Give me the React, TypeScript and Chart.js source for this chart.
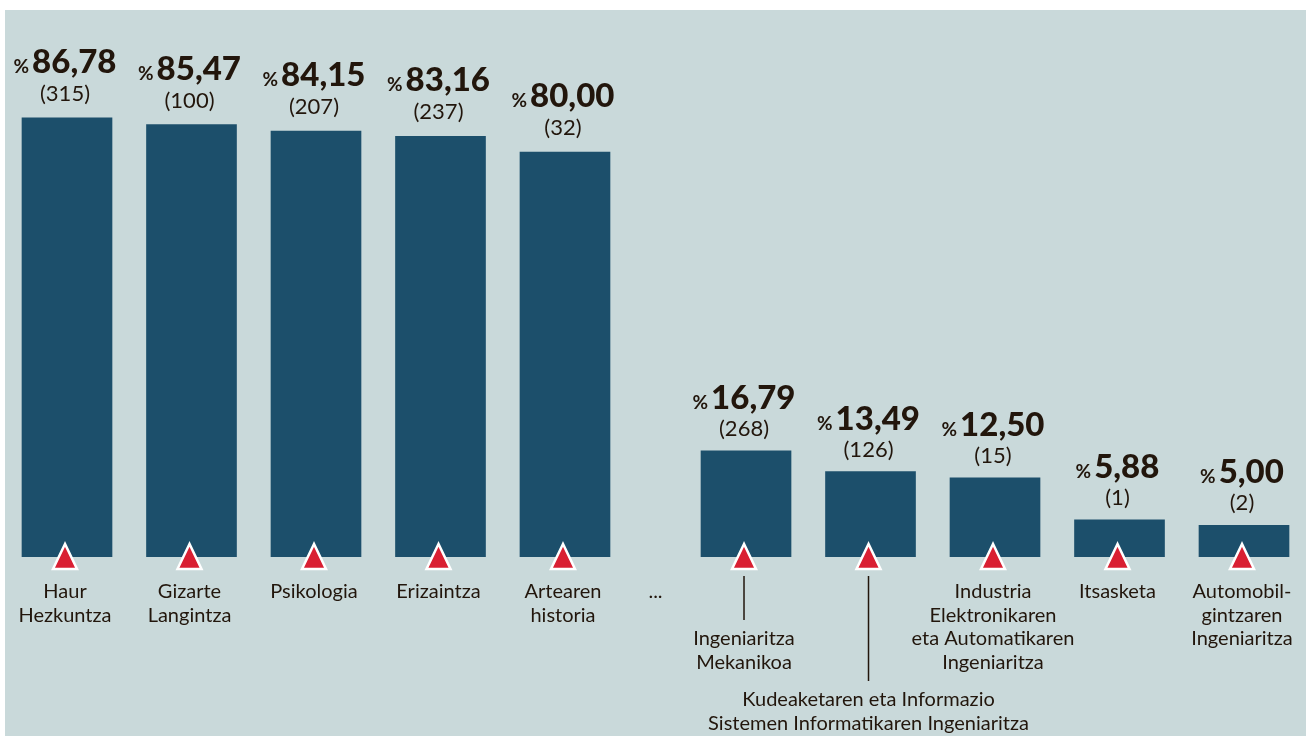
import React, { useEffect, useRef } from "react";
import { Chart, registerables } from "chart.js";

Chart.register(...registerables);

// ---- data ----
const leftCategories: string[][] = [
  ["Haur", "Hezkuntza"],
  ["Gizarte", "Langintza"],
  ["Psikologia"],
  ["Erizaintza"],
  ["Artearen", "historia"],
];
const leftValues = [86.78, 85.47, 84.15, 83.16, 80.0];
const leftCounts = [315, 100, 207, 237, 32];

const rightCategories: string[][] = [
  ["Ingeniaritza", "Mekanikoa"],
  ["Kudeaketaren eta Informazio", "Sistemen Informatikaren Ingeniaritza"],
  ["Industria", "Elektronikaren", "eta Automatikaren", "Ingeniaritza"],
  ["Itsasketa"],
  ["Automobil-", "gintzaren", "Ingeniaritza"],
];
const rightValues = [16.79, 13.49, 12.5, 5.88, 5.0];
const rightCounts = [268, 126, 15, 1, 2];

const gapLabel = "...";
const GROUP_GAP = 0.454; // extra category slots between the two groups

// ---- style ----
const BG = "#c9d9da";
const BAR = "#1c4f6b";
const RED = "#d91f32";
const TEXT = "#22160c";
const FONT = "Lato, 'Noto Sans', sans-serif";
const LABEL_DROP = [0, 0, 0, 0, 0, 47, 108, 0, 0, 0];

const leftPoints = leftValues.map((v, i) => ({ x: i, y: v }));
const rightPoints = rightValues.map((v, i) => ({ x: leftValues.length + GROUP_GAP + i, y: v }));
const allCategories = [...leftCategories, ...rightCategories];
const allCounts = [...leftCounts, ...rightCounts];
const lastX = leftValues.length + GROUP_GAP + rightValues.length - 1;

const fmt = (v: number) => v.toFixed(2).replace(".", ",");

const annotate = {
  id: "annotate",
  beforeDraw(chart: any) {
    const ctx = chart.ctx;
    ctx.save();
    ctx.fillStyle = "#ffffff";
    ctx.fillRect(0, 0, chart.width, chart.height);
    ctx.fillStyle = BG;
    ctx.fillRect(5, 10, chart.width - 9, chart.height - 10);
    ctx.restore();
  },
  afterDatasetsDraw(chart: any) {
    const ctx = chart.ctx;
    const base = chart.chartArea.bottom;
    ctx.save();
    let idx = 0;
    chart.data.datasets.forEach((ds: any, di: number) => {
      const meta = chart.getDatasetMeta(di);
      meta.data.forEach((el: any, i: number) => {
        const k = idx++;
        const cx = el.x;
        const top = el.y;
        const v = ds.data[i].y;
        const isLeft = di === 0;
        // triangle
        ctx.beginPath();
        ctx.moveTo(cx - 2, base - 13);
        ctx.lineTo(cx - 14, base + 12);
        ctx.lineTo(cx + 10, base + 12);
        ctx.closePath();
        ctx.fillStyle = RED;
        ctx.fill();
        ctx.strokeStyle = "#ffffff";
        ctx.lineWidth = 2.5;
        ctx.lineJoin = "miter";
        ctx.stroke();
        // value label
        const num = fmt(v);
        ctx.fillStyle = TEXT;
        ctx.textBaseline = "alphabetic";
        ctx.textAlign = "left";
        ctx.font = `bold 19px ${FONT}`;
        const w1 = ctx.measureText("%").width;
        ctx.font = `900 33px ${FONT}`;
        const w2 = ctx.measureText(num).width;
        const gap = 3;
        const start = cx - 2 - (w1 + gap + w2) / 2;
        const nb = top - (isLeft ? 45 : 42);
        ctx.font = `bold 19px ${FONT}`;
        ctx.fillText("%", start, nb);
        ctx.font = `900 33px ${FONT}`;
        ctx.fillText(num, start + w1 + gap, nb);
        // count
        ctx.font = `22px ${FONT}`;
        ctx.textAlign = "center";
        ctx.fillText(`(${allCounts[k]})`, cx - 2, top - (isLeft ? 17 : 15));
        // category label
        const drop = LABEL_DROP[k];
        ctx.font = `20px ${FONT}`;
        const lines = allCategories[k];
        const firstBase = base + 41 + drop;
        lines.forEach((ln, li) => {
          ctx.fillText(ln, cx - 2, firstBase + li * 23.5);
        });
        if (drop > 0) {
          ctx.beginPath();
          ctx.strokeStyle = TEXT;
          ctx.lineWidth = 1.5;
          ctx.moveTo(cx - 2, base + 19);
          ctx.lineTo(cx - 2, firstBase - 25);
          ctx.stroke();
        }
      });
    });
    // gap marker
    const xs = chart.scales.x;
    const gx = xs.getPixelForValue((leftValues.length - 1 + leftValues.length + GROUP_GAP) / 2);
    ctx.font = `20px ${FONT}`;
    ctx.textAlign = "center";
    ctx.fillStyle = TEXT;
    ctx.fillText(gapLabel, gx, base + 41);
    ctx.restore();
  },
};

export default function App() {
  const ref = useRef<HTMLCanvasElement | null>(null);
  useEffect(() => {
    if (!ref.current) return;
    const chart = new Chart(ref.current, {
      type: "bar",
      data: {
        datasets: [
          {
            data: leftPoints,
            backgroundColor: BAR,
            barThickness: 90,
            yAxisID: "yL",
            grouped: false,
          } as any,
          {
            data: rightPoints,
            backgroundColor: BAR,
            barThickness: 90,
            yAxisID: "yR",
            grouped: false,
          } as any,
        ],
      },
      options: {
        animation: false,
        responsive: false,
        events: [],
        layout: { padding: { left: 4.75, right: 3.75, top: 51, bottom: 179 } },
        plugins: { legend: { display: false }, tooltip: { enabled: false } },
        scales: {
          x: { type: "linear", offset: false, min: -0.5, max: lastX + 0.5, display: false },
          yL: { type: "linear", min: 0, max: 100, display: false },
          yR: { type: "linear", min: 0, max: 80, display: false },
        },
      },
      plugins: [annotate],
    });
    return () => chart.destroy();
  }, []);
  return (
    <div style={{ position: "absolute", left: 0, top: 0, width: 1310, height: 736 }}>
      <canvas ref={ref} width={1310} height={736} style={{ display: "block" }} />
    </div>
  );
}
